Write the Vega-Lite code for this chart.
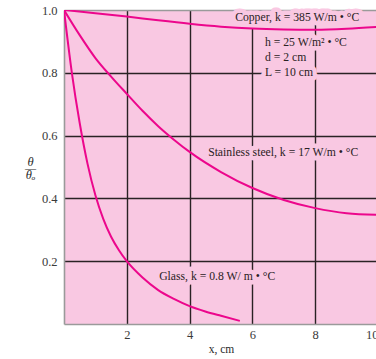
{
  "$schema": "https://vega.github.io/schema/vega-lite/v6.json",
  "width": 314,
  "height": 314,
  "autosize": {"type": "none"},
  "padding": {"left": 64, "top": 10, "right": 0, "bottom": 35},
  "background": "white",
  "config": {
    "view": {"fill": "#F9C8E2", "stroke": null},
    "font": "Liberation Serif",
    "axis": {
      "domainColor": "#9a9a9a",
      "domainWidth": 1.6,
      "gridColor": "#2a2224",
      "gridWidth": 1.4,
      "gridOpacity": 1,
      "ticks": false,
      "labelFont": "Liberation Serif",
      "labelFontSize": 12.5,
      "labelColor": "#3a3a3a",
      "titleFont": "Liberation Serif",
      "titleFontWeight": "normal",
      "titleColor": "#2a2a2a"
    }
  },
  "datasets": {
    "curves": [
      {"material": "Copper", "x": 0, "theta": 1.0},
      {"material": "Copper", "x": 1, "theta": 0.99},
      {"material": "Copper", "x": 2, "theta": 0.979},
      {"material": "Copper", "x": 3, "theta": 0.967},
      {"material": "Copper", "x": 4, "theta": 0.956},
      {"material": "Copper", "x": 5, "theta": 0.947},
      {"material": "Copper", "x": 6, "theta": 0.941},
      {"material": "Copper", "x": 7, "theta": 0.938},
      {"material": "Copper", "x": 8, "theta": 0.937},
      {"material": "Copper", "x": 9, "theta": 0.940},
      {"material": "Copper", "x": 10, "theta": 0.946},
      {"material": "Stainless steel", "x": 0, "theta": 1.0},
      {"material": "Stainless steel", "x": 0.5, "theta": 0.920},
      {"material": "Stainless steel", "x": 1, "theta": 0.847},
      {"material": "Stainless steel", "x": 1.5, "theta": 0.788},
      {"material": "Stainless steel", "x": 2, "theta": 0.733},
      {"material": "Stainless steel", "x": 2.5, "theta": 0.679},
      {"material": "Stainless steel", "x": 3, "theta": 0.630},
      {"material": "Stainless steel", "x": 3.5, "theta": 0.587},
      {"material": "Stainless steel", "x": 4, "theta": 0.548},
      {"material": "Stainless steel", "x": 5, "theta": 0.484},
      {"material": "Stainless steel", "x": 6, "theta": 0.433},
      {"material": "Stainless steel", "x": 7, "theta": 0.395},
      {"material": "Stainless steel", "x": 8, "theta": 0.369},
      {"material": "Stainless steel", "x": 9, "theta": 0.353},
      {"material": "Stainless steel", "x": 10, "theta": 0.348},
      {"material": "Glass", "x": 0, "theta": 1.0},
      {"material": "Glass", "x": 0.25, "theta": 0.80},
      {"material": "Glass", "x": 0.5, "theta": 0.64},
      {"material": "Glass", "x": 0.75, "theta": 0.51},
      {"material": "Glass", "x": 1.0, "theta": 0.41},
      {"material": "Glass", "x": 1.25, "theta": 0.335},
      {"material": "Glass", "x": 1.5, "theta": 0.278},
      {"material": "Glass", "x": 1.75, "theta": 0.235},
      {"material": "Glass", "x": 2.0, "theta": 0.200},
      {"material": "Glass", "x": 2.5, "theta": 0.148},
      {"material": "Glass", "x": 3.0, "theta": 0.108},
      {"material": "Glass", "x": 3.5, "theta": 0.080},
      {"material": "Glass", "x": 4.0, "theta": 0.057},
      {"material": "Glass", "x": 4.5, "theta": 0.040},
      {"material": "Glass", "x": 5.0, "theta": 0.026},
      {"material": "Glass", "x": 5.6, "theta": 0.010}
    ],
    "labels": [
      {"text": "Copper, k = 385 W/m • °C", "x": 5.45, "y": 0.978},
      {"text": "h = 25 W/m² • °C", "x": 6.4, "y": 0.898},
      {"text": "d = 2 cm", "x": 6.4, "y": 0.850},
      {"text": "L = 10 cm", "x": 6.4, "y": 0.801},
      {"text": "Stainless steel, k = 17 W/m • °C", "x": 4.59, "y": 0.548},
      {"text": "Glass, k = 0.8 W/ m • °C", "x": 3.03, "y": 0.154}
    ]
  },
  "encoding": {
    "x": {
      "field": "x",
      "type": "quantitative",
      "scale": {"domain": [0, 10], "nice": false},
      "axis": {
        "values": [2, 4, 6, 8, 10],
        "title": "x, cm",
        "titleFontSize": 11.5,
        "titlePadding": 3,
        "labelPadding": 4
      }
    },
    "y": {
      "field": "theta",
      "type": "quantitative",
      "scale": {"domain": [0, 1], "nice": false},
      "axis": {
        "values": [0.2, 0.4, 0.6, 0.8, 1.0],
        "format": ".1f",
        "labelPadding": 7,
        "gridColor": {"condition": {"test": "datum.value >= 1", "value": "#9a9a9a"}, "value": "#2a2224"},
        "title": ["θ", "—", "θₒ"],
        "titleAngle": 0,
        "titleAlign": "center",
        "titleBaseline": "middle",
        "titleFontSize": 12.5,
        "titleFontStyle": "italic",
        "titleLineHeight": 6.5,
        "titleX": -34,
        "titleY": 151
      }
    }
  },
  "layer": [
    {
      "data": {"name": "labels"},
      "mark": {"type": "text", "align": "left", "baseline": "middle", "fontSize": 11.7, "stroke": "#F9C8E2", "strokeWidth": 9, "strokeJoin": "round", "fill": "#F9C8E2"},
      "encoding": {
        "x": {"field": "x", "type": "quantitative"},
        "y": {"field": "y", "type": "quantitative"},
        "text": {"field": "text"}
      }
    },
    {
      "data": {"name": "curves"},
      "mark": {"type": "line", "interpolate": "monotone", "color": "#EC078C", "strokeWidth": 2, "clip": true},
      "encoding": {
        "detail": {"field": "material"}
      }
    },
    {
      "data": {"name": "labels"},
      "mark": {"type": "text", "align": "left", "baseline": "middle", "fontSize": 11.7, "color": "#2a2224"},
      "encoding": {
        "x": {"field": "x", "type": "quantitative"},
        "y": {"field": "y", "type": "quantitative"},
        "text": {"field": "text"}
      }
    }
  ]
}
